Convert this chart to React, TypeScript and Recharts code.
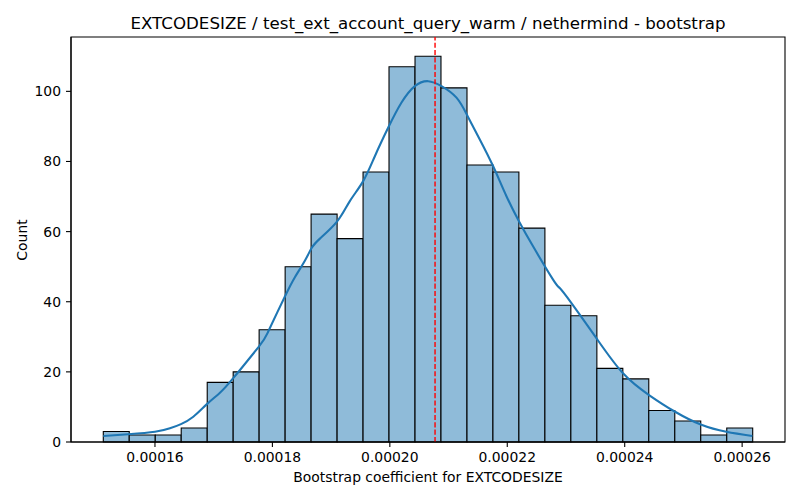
import React from 'react';
import { ComposedChart, Line, XAxis, YAxis, ReferenceArea, ReferenceLine } from 'recharts';

// Histogram bin edges (26) and counts (25)
const binEdges = [
  0.0001512, 0.00015562, 0.00016005, 0.00016447, 0.0001689, 0.00017332, 0.00017774,
  0.00018217, 0.00018659, 0.00019102, 0.00019544, 0.00019986, 0.00020429, 0.00020871,
  0.00021314, 0.00021756, 0.00022198, 0.00022641, 0.00023083, 0.00023526, 0.00023968,
  0.0002441, 0.00024853, 0.00025295, 0.00025738, 0.0002618,
];
const binCounts = [3, 2, 2, 4, 17, 20, 32, 50, 65, 58, 77, 107, 110, 101, 79, 77, 61, 39, 36, 21, 18, 9, 6, 2, 4];

// KDE curve
const kdeX = [
  0.0001512, 0.00015546, 0.00016, 0.00016255, 0.00016443, 0.00016653, 0.00016885, 0.00017098,
  0.00017333, 0.0001777, 0.00017929, 0.00018213, 0.00018383, 0.00018553, 0.00018668, 0.00018809,
  0.00019103, 0.00019319, 0.00019546, 0.00019745, 0.00019971, 0.00020199, 0.00020426, 0.00020652,
  0.0002088, 0.00021135, 0.00021323, 0.00021532, 0.00021758, 0.00021986, 0.00022201, 0.00022439,
  0.0002278, 0.00022894, 0.00023093, 0.00023518, 0.00023971, 0.00024414, 0.00024851, 0.00025306,
  0.00025731, 0.00026174,
];
const kdeY = [
  1.7, 2.2, 2.9, 3.9, 5.1, 7.2, 10.8, 13.9,
  18.2, 27.2, 31.5, 41.5, 47.0, 51.7, 55.3, 58.0,
  62.9, 68.7, 74.4, 81.5, 89.6, 96.8, 101.5, 102.9,
  101.5, 98.2, 93, 86.3, 78.7, 70.1, 62.9, 55.8,
  46.3, 43.9, 39.6, 29.6, 19.6, 13.4, 8.7, 4.9,
  2.9, 1.7,
];

const xTicks = [0.00016, 0.00018, 0.0002, 0.00022, 0.00024, 0.00026];
const yTicks = [0, 20, 40, 60, 80, 100];
const meanValue = 0.0002077;
const xDomain = [0.0001457, 0.0002673];
const yDomain = [0, 115.5];

const titleText = 'EXTCODESIZE / test_ext_account_query_warm / nethermind - bootstrap';
const xLabelText = 'Bootstrap coefficient for EXTCODESIZE';
const yLabelText = 'Count';

const kdeData = kdeX.map((x, i) => ({ x, kde: kdeY[i] }));
const bins = binCounts.map((c, i) => ({ lo: binEdges[i], hi: binEdges[i + 1], count: c }));

const FONT = '"DejaVu Sans", sans-serif';
const tickStyle = { fill: '#000', fontSize: 13.9, fontFamily: FONT };

export default function App() {
  return (
    <div style={{ position: 'absolute', left: 0, top: 0, width: 800, height: 500, background: '#fff', fontFamily: FONT }}>
      <ComposedChart
        width={800}
        height={500}
        data={kdeData}
        margin={{ top: 37, right: 15, bottom: 0, left: 0 }}
      >
        <XAxis
          dataKey="x"
          type="number"
          domain={xDomain}
          allowDataOverflow
          ticks={xTicks}
          tickFormatter={(v: number) => v.toFixed(5)}
          height={58}
          tick={tickStyle}
          tickSize={5}
          tickMargin={5.5}
          stroke="#000"
          axisLine={{ stroke: '#000', strokeWidth: 1.1 }}
          tickLine={{ stroke: '#000', strokeWidth: 1.1 }}
        />
        <YAxis
          type="number"
          domain={yDomain}
          allowDataOverflow
          ticks={yTicks}
          width={71}
          tick={tickStyle}
          tickSize={5}
          tickMargin={5}
          stroke="#000"
          axisLine={{ stroke: '#000', strokeWidth: 1.1 }}
          tickLine={{ stroke: '#000', strokeWidth: 1.1 }}
        />
        {bins.map((b, i) => (
          <ReferenceArea
            key={`bin-${i}`}
            x1={b.lo}
            x2={b.hi}
            y1={0}
            y2={b.count}
            fill="#8fbbd9"
            fillOpacity={1}
            stroke="#000"
            strokeWidth={1.1}
            ifOverflow="visible"
          />
        ))}
        <Line
          dataKey="kde"
          type="natural"
          stroke="#1f77b4"
          strokeWidth={2.1}
          dot={false}
          activeDot={false}
          isAnimationActive={false}
        />
        <ReferenceLine x={meanValue} stroke="#ff0000" strokeWidth={1.4} strokeDasharray="5.1 2.2" />
        <ReferenceArea
          x1={xDomain[0]}
          x2={xDomain[1]}
          y1={yDomain[0]}
          y2={yDomain[1]}
          fill="none"
          fillOpacity={0}
          stroke="#000"
          strokeWidth={1.1}
          ifOverflow="visible"
        />
      </ComposedChart>
      <svg
        width={800}
        height={500}
        style={{ position: 'absolute', left: 0, top: 0, pointerEvents: 'none' }}
      >
        <text x={428} y={29} textAnchor="middle" fontSize={16.67} fontFamily={FONT} fill="#000">
          {titleText}
        </text>
        <text x={428} y={482.3} textAnchor="middle" fontSize={13.9} fontFamily={FONT} fill="#000">
          {xLabelText}
        </text>
        <text
          transform="translate(26.6,240) rotate(-90)"
          textAnchor="middle"
          fontSize={13.9}
          fontFamily={FONT}
          fill="#000"
        >
          {yLabelText}
        </text>
      </svg>
    </div>
  );
}
